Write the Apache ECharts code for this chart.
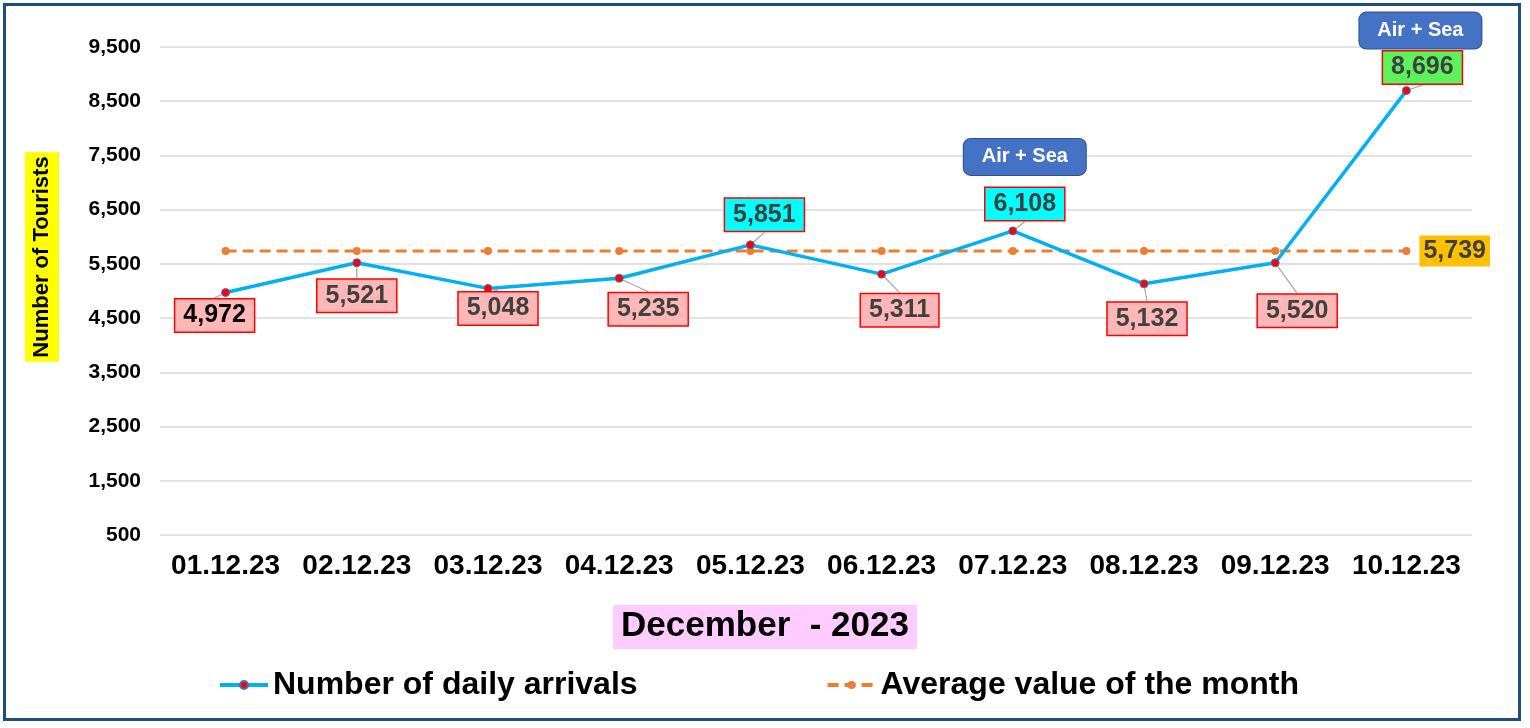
<!DOCTYPE html>
<html>
<head>
<meta charset="utf-8">
<script src="https://cdn.jsdelivr.net/npm/echarts@6/dist/echarts.min.js"></script>
<style>
  html, body { margin: 0; padding: 0; background: #fff; }
  #frame {
    position: absolute; left: 3px; top: 3px;
    width: 1518px; height: 718px;
    border: 3px solid #1F4E79;
    box-sizing: border-box;
  }
  #main { position: absolute; left: 0; top: 0; width: 1530px; height: 728px; }
</style>
</head>
<body>
<div id="frame"></div>
<div id="main"></div>
<script>
// data
var days = ["01.12.23", "02.12.23", "03.12.23", "04.12.23", "05.12.23",
            "06.12.23", "07.12.23", "08.12.23", "09.12.23", "10.12.23"];
var arrivals = [4972, 5521, 5048, 5235, 5851, 5311, 6108, 5132, 5520, 8696];
var monthAverage = 5739;
var averageLine = days.map(function () { return monthAverage; });
var airSeaDays = [6, 9];

// label box colours and offsets (px) from the point
var labelBg = ["#FFB7B7", "#FFB7B7", "#FFB7B7", "#FFB7B7", "#00FFFF",
               "#FFB7B7", "#00FFFF", "#FFB7B7", "#FFB7B7", "#5CF25C"];
var labelShift = [[-11, 23], [0, 33], [10, 20], [29, 31], [14, -30],
                  [18, 36], [12, -27], [3, 35], [22, 48], [16, -23]];

var font = "'Liberation Sans', Arial, sans-serif";

var chart = echarts.init(document.getElementById("main"));

var arrivalData = arrivals.map(function (v, i) {
  return {
    value: v,
    label: {
      backgroundColor: labelBg[i],
      color: i === 0 ? "#000" : "#404040"
    }
  };
});

// only the last point of the average line carries its value
var averageData = averageLine.map(function (v, i) {
  if (i < averageLine.length - 1) return v;
  return {
    value: v,
    label: {
      show: true,
      position: "right",
      distance: 9,
      fontSize: 25,
      fontWeight: "bold",
      color: "#404040",
      backgroundColor: "#FFC000",
      padding: [4, 4, 2, 4],
      formatter: function (p) { return p.value.toLocaleString("en-US"); }
    }
  };
});

var option = {
  animation: false,
  textStyle: { fontFamily: font },
  title: {
    text: "December  - 2023",
    left: "center",
    top: 605,
    padding: [4, 8, 5, 8],
    backgroundColor: "#FFCCFF",
    textStyle: { fontSize: 35, fontWeight: "bold", color: "#000", fontFamily: font }
  },
  legend: {
    left: 213,
    top: 664,
    itemWidth: 48,
    itemHeight: 10,
    itemGap: 188,
    lineStyle: { width: 4 },
    textStyle: { fontSize: 32, fontWeight: "bold", color: "#000", fontFamily: font },
    data: ["Number of daily arrivals", "Average value of the month"]
  },
  graphic: [{
    type: "text",
    x: 42,
    y: 257,
    rotation: Math.PI / 2,
    style: {
      text: "Number of Tourists",
      font: "bold 22px " + font,
      fill: "#000",
      backgroundColor: "#FFFF00",
      padding: [7, 4, 5, 4],
      align: "center",
      verticalAlign: "middle"
    }
  }],
  grid: { left: 160, right: 58, top: 47, bottom: 193, containLabel: false },
  xAxis: {
    type: "category",
    data: days,
    axisLine: { show: false },
    axisTick: { show: false },
    axisLabel: { interval: 0, fontSize: 28, fontWeight: "bold", color: "#000", margin: 17 }
  },
  yAxis: {
    type: "value",
    min: 500,
    max: 9500,
    interval: 1000,
    axisLabel: {
      fontSize: 21, fontWeight: "bold", color: "#000", margin: 19,
      formatter: function (v) { return v.toLocaleString("en-US"); }
    },
    splitLine: { lineStyle: { color: "#D9D9D9", width: 1.5 } }
  },
  series: [
    {
      name: "Number of daily arrivals",
      type: "line",
      data: arrivalData,
      z: 3,
      symbol: "circle",
      symbolSize: 8,
      itemStyle: { color: "#FF0000", borderColor: "#4472C4", borderWidth: 1 },
      lineStyle: { color: "#00B0F0", width: 3.5 },
      label: {
        show: true,
        position: "inside",
        fontSize: 25,
        fontWeight: "bold",
        borderColor: "#FF0000",
        borderWidth: 1.5,
        padding: [4, 8, 3, 8],
        formatter: function (p) { return p.value.toLocaleString("en-US"); }
      },
      labelLine: { show: true, lineStyle: { color: "#A6A6A6", width: 1.2 } },
      labelLayout: function (p) {
        var s = labelShift[p.dataIndex];
        return { dx: s[0], dy: s[1] };
      },
      markPoint: {
        symbol: "circle",
        symbolSize: 0,
        data: airSeaDays.map(function (i) {
          return {
            coord: [i, arrivals[i]],
            label: { offset: i === 9 ? [14, -60] : [12, -74] }
          };
        }),
        label: {
          show: true,
          position: "inside",
          formatter: "Air + Sea",
          color: "#fff",
          fontSize: 20,
          fontWeight: "bold",
          backgroundColor: "#4472C4",
          borderColor: "#2F528F",
          borderWidth: 1,
          borderRadius: 7,
          width: 104,
          align: "center",
          padding: [9, 9, 7, 9]
        }
      }
    },
    {
      name: "Average value of the month",
      type: "line",
      data: averageData,
      z: 2,
      symbol: "circle",
      symbolSize: 8,
      itemStyle: { color: "#ED7D31" },
      lineStyle: { color: "#ED7D31", width: 3, type: [11, 6] },
      label: { show: false }
    }
  ]
};

chart.setOption(option);
</script>
</body>
</html>
